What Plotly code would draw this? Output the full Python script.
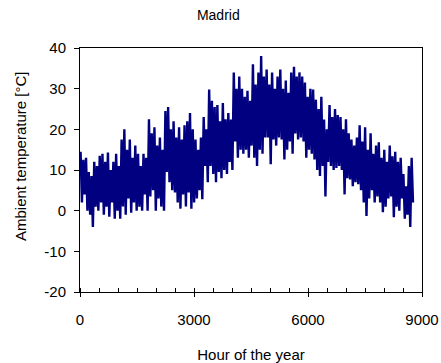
import plotly.graph_objects as go

# Estimated 3-day envelope of hourly ambient temperature in Madrid
step_hours = 72
temp_high = [14.5, 12.5, 13, 9.5, 8.5, 12, 11, 13.5, 14, 12, 14.3, 10, 12, 14, 11,
             17.5, 20, 15, 17.5, 13, 16, 14, 11, 14, 13, 22.5, 19, 20.5, 16, 18,
             15, 24.5, 25.5, 20, 22, 18, 20.5, 17.5, 21, 22, 24, 20, 17.5, 15, 18,
             23, 20, 29.8, 27, 25.5, 26, 22, 26.5, 22.5, 24, 22.4, 34, 30, 33, 30,
             28, 29.5, 27, 36, 31, 34, 38, 33, 34.7, 31, 34, 30, 33, 34.7, 30,
             32, 29, 34, 35.4, 33, 34, 33, 31.5, 28, 30, 29.8, 27.3, 25, 28, 22.4,
             20, 26, 23, 25, 23.5, 23, 20, 22.5, 19, 17.5, 16, 18, 21, 17, 20.5,
             15, 19, 14, 16, 16.8, 13, 15, 12, 16, 13.4, 14.5, 12, 13, 9, 6, 11, 13]
temp_low = [2, 4, 0, -1, -4, 1, 0, 2, -1, 1, -1.5, 2, -2, 0, -2,
            1, -1, 3, -0.5, 2, 0, 1, 0, 4, 0, 3.5, 5, 0, 3, 1,
            0, 9.5, 7, 5, 4.5, 2, 0.5, 4, 1, 4.5, 0.5, 2, 3, 5, 2.8,
            11, 7, 11, 9, 7, 9.5, 8, 10, 9, 12, 10, 17, 13, 15, 14,
            15, 13, 16, 13, 11, 15, 14, 18, 18, 11.4, 17.5, 16, 18, 17.5, 12.6,
            15, 17, 14, 19, 17.5, 18, 17, 13, 15, 14, 12.6, 10, 8.5, 11, 3.5,
            12, 11, 10, 10.5, 11, 10, 4, 8, 7.7, 6, 7, 6.5, 5, 2, -1.3,
            3, 5, 2, 3.5, 2, -0.4, 1, 3, 3.5, -1.6, 1, 0, 3, -2, -1, -4, 2]

x_ticks = [0, 3000, 6000, 9000]
y_ticks = [-20, -10, 0, 10, 20, 30, 40]
y_tick_text = ["-20", "-10", "0", "10", "20", "30", "40"]

hours, temps = [], []
for i, (hi, lo) in enumerate(zip(temp_high, temp_low)):
    hours += [i * step_hours + 15, i * step_hours + 51]
    temps += [hi, lo]

font_family = "Liberation Sans, Arial, sans-serif"

fig = go.Figure(go.Scatter(x=hours, y=temps, mode="lines",
                           line=dict(color="#000080", width=2.4),
                           showlegend=False, hoverinfo="skip"))

fig.update_layout(
    width=441, height=363,
    margin=dict(l=80, r=19, t=48, b=71),
    paper_bgcolor="white", plot_bgcolor="white",
    font=dict(family=font_family, size=14, color="black"),
    title=dict(text="Madrid", x=0.495, xanchor="center", y=0.958, yanchor="middle",
               font=dict(size=14, family=font_family, color="black")),
    xaxis=dict(range=[0, 9000], tickvals=x_ticks, ticks="outside", ticklen=4,
               tickcolor="black", showline=True, linecolor="black", linewidth=1,
               mirror=True, showgrid=False, zeroline=False, automargin=False,
               ticklabelstandoff=10, tickfont=dict(size=15),
               minor=dict(dtick=500, ticks="inside", ticklen=4, tickcolor="black",
                          showgrid=False),
               title=dict(text="Hour of the year", standoff=24,
                          font=dict(size=15))),
    yaxis=dict(range=[-20, 40], tickvals=y_ticks, ticktext=y_tick_text,
               ticks="outside", ticklen=5, tickfont=dict(size=15),
               tickcolor="black", showline=True, linecolor="black", linewidth=1,
               mirror=True, showgrid=False, zeroline=False, automargin=False,
               ticklabelstandoff=5),
    annotations=[dict(text="Ambient temperature [°C]", textangle=-90,
                      xref="paper", yref="paper", x=0, y=0.5,
                      xanchor="center", yanchor="middle",
                      xshift=-60, yshift=13, showarrow=False,
                      font=dict(size=15, family=font_family))],
)

fig.write_html("out.html")
